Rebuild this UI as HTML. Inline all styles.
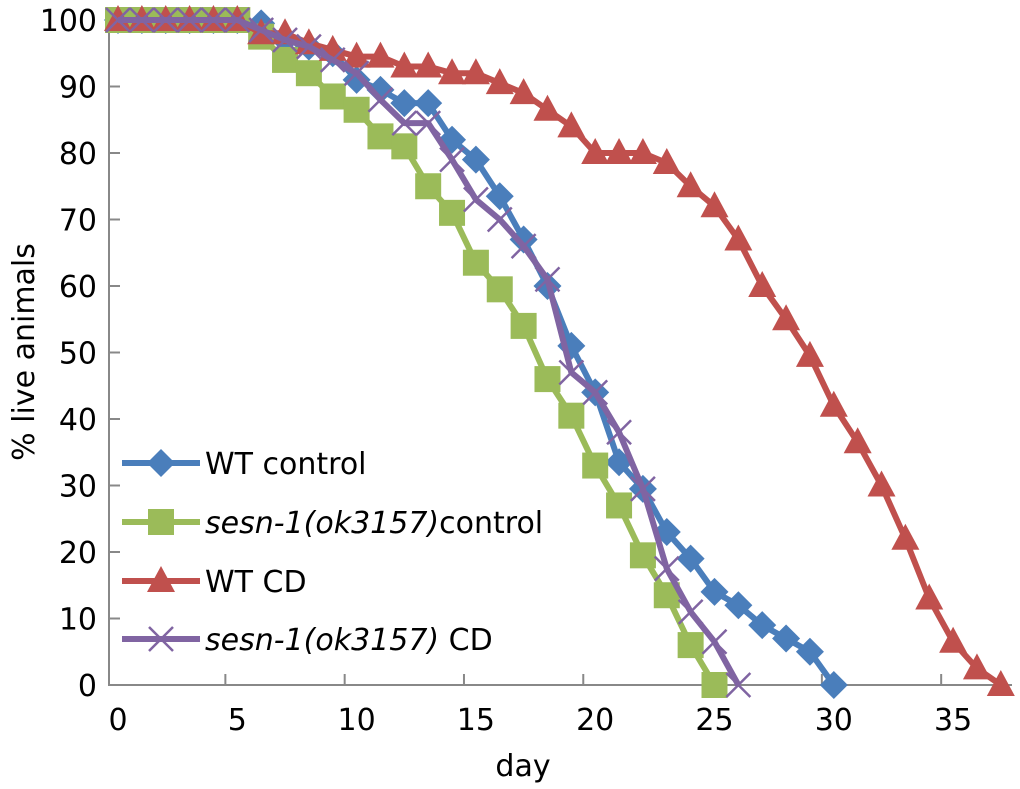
<!DOCTYPE html>
<html><head><meta charset="utf-8"><style>
body{margin:0;background:#fff;}
svg{display:block;font-family:"DejaVu Sans","Liberation Sans",sans-serif;}
</style></head><body>
<svg id="c" width="1020" height="789">
<g id="axes"></g><g id="series"></g><g id="legend"></g>
</svg>
<script>
const categories=[...Array(38).keys()];
const wtControl=[100,100,100,100,100,100,99.5,97,96,95,91,89.5,87.5,87.5,82,79,73.5,67,60,51,44,33.5,29.5,23,19,14,12,9,7,5,0];
const sesnControl=[100,100,100,100,100,100,97.5,94,92,88.5,86.5,82.5,81,75,71,63.5,59.5,54,46,40.5,33,27,19.5,13.5,6,0];
const wtCD=[100,100,100,100,100,100,98,98,96.5,95.5,94.5,94.5,93,93,92,92,90.5,89,86.5,84,80,80,80,78.5,75,72,67,60,55,49.5,42,36.5,30,22,13,6.5,2.5,0];
const sesnCD=[100,100,100,100,100,100,98.5,97,96,94,92,88,84.5,84.5,79,73,70,66,61,47,44,38,29.5,17.5,11,6.5,0];
const yTicks=[0,10,20,30,40,50,60,70,80,90,100];
const xTicks=[0,5,10,15,20,25,30,35];
const NS="http://www.w3.org/2000/svg";
const X=d=>118+23.86*d, Y=v=>685-6.65*v;
function mk(t,a,p){const e=document.createElementNS(NS,t);for(const k in a)e.setAttribute(k,a[k]);p.appendChild(e);return e;}
const ax=document.getElementById('axes');
let l=mk('line',{x1:109,y1:20,x2:109,y2:686,stroke:'#888','stroke-width':2},ax);


l=mk('line',{x1:108,y1:685,x2:1012,y2:685,stroke:'#888','stroke-width':2},ax);


yTicks.forEach(v=>{
 mk('line',{x1:109,x2:120,y1:Y(v),y2:Y(v),stroke:'#888','stroke-width':2},ax);
 const t=mk('text',{x:97,y:Y(v)+11,'text-anchor':'end','font-size':30,fill:'#000'},ax);t.textContent=v;
 
 
});
xTicks.forEach(v=>{
 if(v>0)mk('line',{x1:X(v-0.5),x2:X(v-0.5),y1:674,y2:685,stroke:'#888','stroke-width':2},ax);
 const t=mk('text',{x:X(v),y:730,'text-anchor':'middle','font-size':30,fill:'#000'},ax);t.textContent=v;
 
 
});
let t=mk('text',{x:523,y:776,'text-anchor':'middle','font-size':30},ax);t.textContent='day';


t=mk('text',{x:0,y:0,'text-anchor':'middle','font-size':30,transform:'translate(34,352) rotate(-90)'},ax);t.textContent='% live animals';


const S=document.getElementById('series');
function marker(g,type,x,y,c){
 if(type==='d')mk('polygon',{points:`${x},${y-14} ${x+14},${y} ${x},${y+14} ${x-14},${y}`,fill:c},g);
 else if(type==='s')mk('rect',{x:x-13,y:y-13,width:26,height:26,fill:c},g);
 else if(type==='t')mk('polygon',{points:`${x},${y-15} ${x+14},${y+11} ${x-14},${y+11}`,fill:c},g);
 else{mk('path',{d:`M${x-12},${y-12}L${x+12},${y+12}M${x-12},${y+12}L${x+12},${y-12}`,stroke:c,'stroke-width':2.5},g);}
}
const series=[[wtControl,'#4a7ebb','d','wt-control'],[sesnControl,'#9bbb59','s','sesn1-control'],[wtCD,'#c0504d','t','wt-cd'],[sesnCD,'#8064a2','x','sesn1-cd']];
series.forEach(([vals,c,m,n])=>{
 const g=mk('g',{},S);
 
 
 mk('polyline',{points:vals.map((v,i)=>X(categories[i])+','+Y(v)).join(' '),fill:'none',stroke:c,'stroke-width':6,'stroke-linejoin':'round'},g);
 vals.forEach((v,i)=>marker(g,m,X(categories[i]),Y(v),c));
});
const L=document.getElementById('legend');
const labels=[['WT control'],['sesn-1(ok3157)','control'],['WT CD'],['sesn-1(ok3157)',' CD']];
const ly=[463,522,581,639];
series.forEach(([v,c,m,n],i)=>{
 const g=mk('g',{},L);
 
 
 mk('line',{x1:122,x2:200,y1:ly[i],y2:ly[i],stroke:c,'stroke-width':6},g);
 marker(g,m,161,ly[i],c);
 const tx=mk('text',{x:205,y:ly[i]+11,'font-size':30},g);
 const lb=labels[i];
 if(lb.length===1)tx.textContent=lb[0];
 else{const a=mk('tspan',{'font-style':'italic'},tx);a.textContent=lb[0];const b=mk('tspan',{},tx);b.textContent=lb[1];}
});
</script>
</body></html>
